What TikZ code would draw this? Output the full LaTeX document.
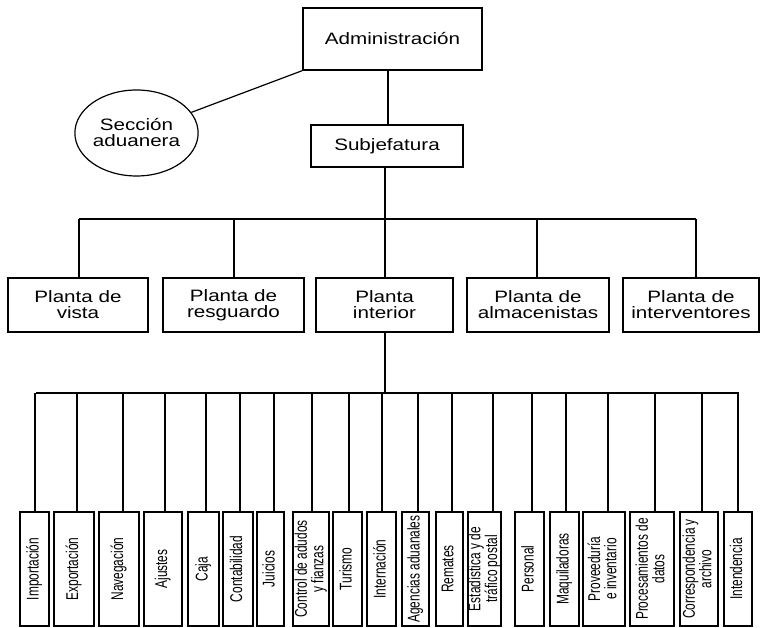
\documentclass[tikz,border=0pt]{standalone}
\usepackage{fontspec}
\setmainfont{Liberation Sans}[FakeStretch=1.25]
\newfontfamily\narrowfont{Liberation Sans}[FakeStretch=0.7]
\usetikzlibrary{shapes.geometric}
\begin{document}
\begin{tikzpicture}[x=1pt,y=-1pt,line width=1.2pt,
  box/.style={draw,rectangle,inner sep=0pt,align=center,font=\fontsize{16.5}{16}\selectfont},
  pbox/.style={box,minimum height=54pt},
  sbox/.style={draw,rectangle,inner sep=0pt,minimum height=114pt,font=\narrowfont\fontsize{17}{13.5}\selectfont},
  oval/.style={draw,ellipse,inner sep=0pt,align=center,font=\fontsize{16.5}{16}\selectfont}]
\useasboundingbox (0,0) rectangle (761,628);
% top
\node[box,minimum width=179pt,minimum height=62pt] (adm) at (392.5,39) {Administración};
\node[box,minimum width=152pt,minimum height=42pt] (subj) at (387,146) {Subjefatura};
\node[oval,minimum width=113pt,minimum height=86pt] (sec) at (136.5,133) {Sección\\aduanera};
\draw (adm.south west) -- (sec);
\draw ([xshift=1pt]subj.north) -- ([xshift=1pt]subj.north |- adm.south);
% plantas
\node[pbox,minimum width=140pt] (p1) at (78,305) {Planta de\\vista};
\node[pbox,minimum width=141pt] (p2) at (233.5,305) {Planta de\\resguardo};
\node[pbox,minimum width=137pt] (p3) at (384.5,305) {Planta\\interior};
\node[pbox,minimum width=142pt] (p4) at (538,305) {Planta de\\almacenistas};
\node[pbox,minimum width=136pt] (p5) at (691,305) {Planta de\\interventores};
\coordinate (b1L) at (79,219);
\coordinate (b1R) at (696,219);
\draw (b1L) -- (b1R);
\draw ([xshift=-2pt]subj.south) -- ([xshift=-2pt]subj.south |- b1L);
\foreach \n/\d in {1/1,2/0.5,3/0.5,4/-1,5/5}{
  \draw ([xshift=\d pt]p\n.north) -- ([xshift=\d pt]p\n.north |- b1L);
}
% bottom
\coordinate (b2L) at (36,393);
\coordinate (b2R) at (739,393);
\draw (b2L) -- (b2R);
\draw ([xshift=0.5pt]p3.south) -- ([xshift=0.5pt]p3.south |- b2L);
\foreach \n/\c/\w/\d/\txt in {
  1/34.5/29/0.5/{Importación},
  2/74/40/3/{Exportación},
  3/119/40/4/{Navegación},
  4/163/38/2/{Ajustes},
  5/203.5/31/2.5/{Caja},
  6/238/30/2/{Contabilidad},
  7/270.5/27/3.5/{Juicios},
  8/311/36/1/{Control de adudos\\y fianzas},
  9/347.5/29/1.5/{Turismo},
  10/381.5/29/0.5/{Internación},
  11/415.5/27/2.5/{Agencias aduanales},
  12/449.5/27/2.5/{Remates},
  13/484.5/31/8.5/{Estadística y de\\tráfico postal},
  14/529.5/29/2.5/{Personal},
  15/564.5/29/1.5/{Maquiladoras},
  16/604/42/4/{Proveeduría\\e inventario},
  17/652/44/3/{Procesamientos de\\datos},
  18/699/38/3/{Correspondencia y\\archivo},
  19/738/28/0/{Intendencia}}{
  \node[sbox,minimum width=\w pt] (s\n) at (\c,569) {\rotatebox{90}{\begin{tabular}{@{}c@{}}\txt\end{tabular}}};
  \draw ([xshift=\d pt]s\n.north) -- ([xshift=\d pt]s\n.north |- b2L);
}
\end{tikzpicture}
\end{document}
